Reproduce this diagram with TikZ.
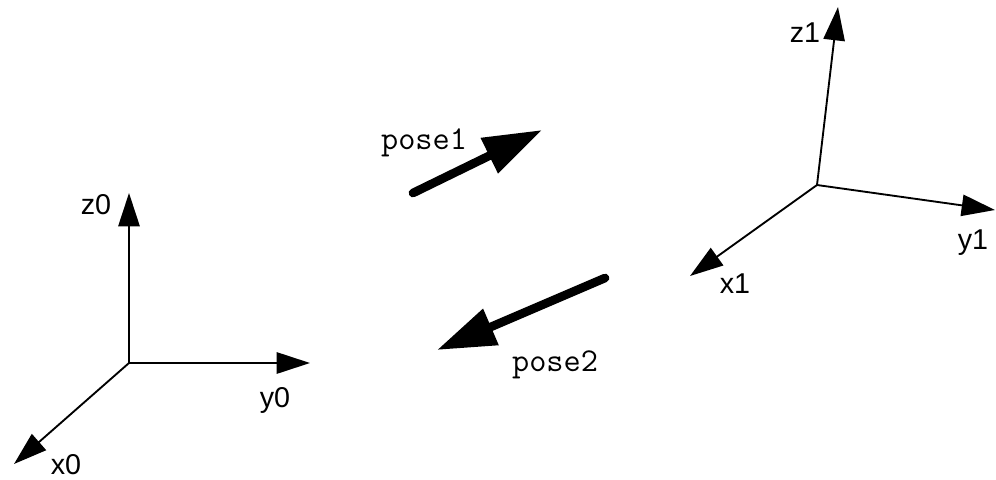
\documentclass[tikz,border=0pt]{standalone}
\usepackage{fontspec}
\setmainfont{Liberation Sans}
\usetikzlibrary{arrows.meta}
\tikzset{
  axis-arrow/.style={-{Triangle[length=25pt,width=16pt]},line width=1.4pt},
  pose-arrow/.style={-{Triangle[length=44pt,width=28pt]},line width=6.5pt,line cap=round},
  axis-label/.style={font=\fontsize{21.5}{24}\selectfont,inner sep=0pt},
  pose-label/.style={font=\ttfamily\fontsize{25}{28}\selectfont,inner sep=0pt},
}
\begin{document}
\begin{tikzpicture}[x=0.75pt,y=-0.75pt]
  \useasboundingbox (0,0) rectangle (996,479);
  % frame 0
  \coordinate (o0) at (129,363);
  \coordinate (x0tip) at (14,464);
  \coordinate (y0tip) at (310,363);
  \coordinate (z0tip) at (129,193);
  \draw[axis-arrow] (o0) -- (x0tip);
  \draw[axis-arrow] (o0) -- (y0tip);
  \draw[axis-arrow] (o0) -- (z0tip);
  \node[axis-label] (x0) at (66,465) {x0};
  \node[axis-label] (y0) at (275,400) {y0};
  \node[axis-label] (z0) at (96,205) {z0};
  % frame 1
  \coordinate (o1) at (817,185);
  \coordinate (x1tip) at (690,276);
  \coordinate (y1tip) at (995,210);
  \coordinate (z1tip) at (838,7);
  \draw[axis-arrow] (o1) -- (x1tip);
  \draw[axis-arrow] (o1) -- (y1tip);
  \draw[axis-arrow] (o1) -- (z1tip);
  \node[axis-label] (x1) at (735,284) {x1};
  \node[axis-label] (y1) at (973,243) {y1};
  \node[axis-label] (z1) at (805,33) {z1};
  % poses
  \coordinate (p1tail) at (413,193);
  \coordinate (p1tip) at (542,130);
  \coordinate (p2tail) at (605,278);
  \coordinate (p2tip) at (437,350);
  \draw[pose-arrow] (p1tail) -- (p1tip);
  \draw[pose-arrow] (p2tail) -- (p2tip);
  \node[pose-label] (pose1) at (424,143) {pose1};
  \node[pose-label] (pose2) at (555,365) {pose2};
\end{tikzpicture}
\end{document}
